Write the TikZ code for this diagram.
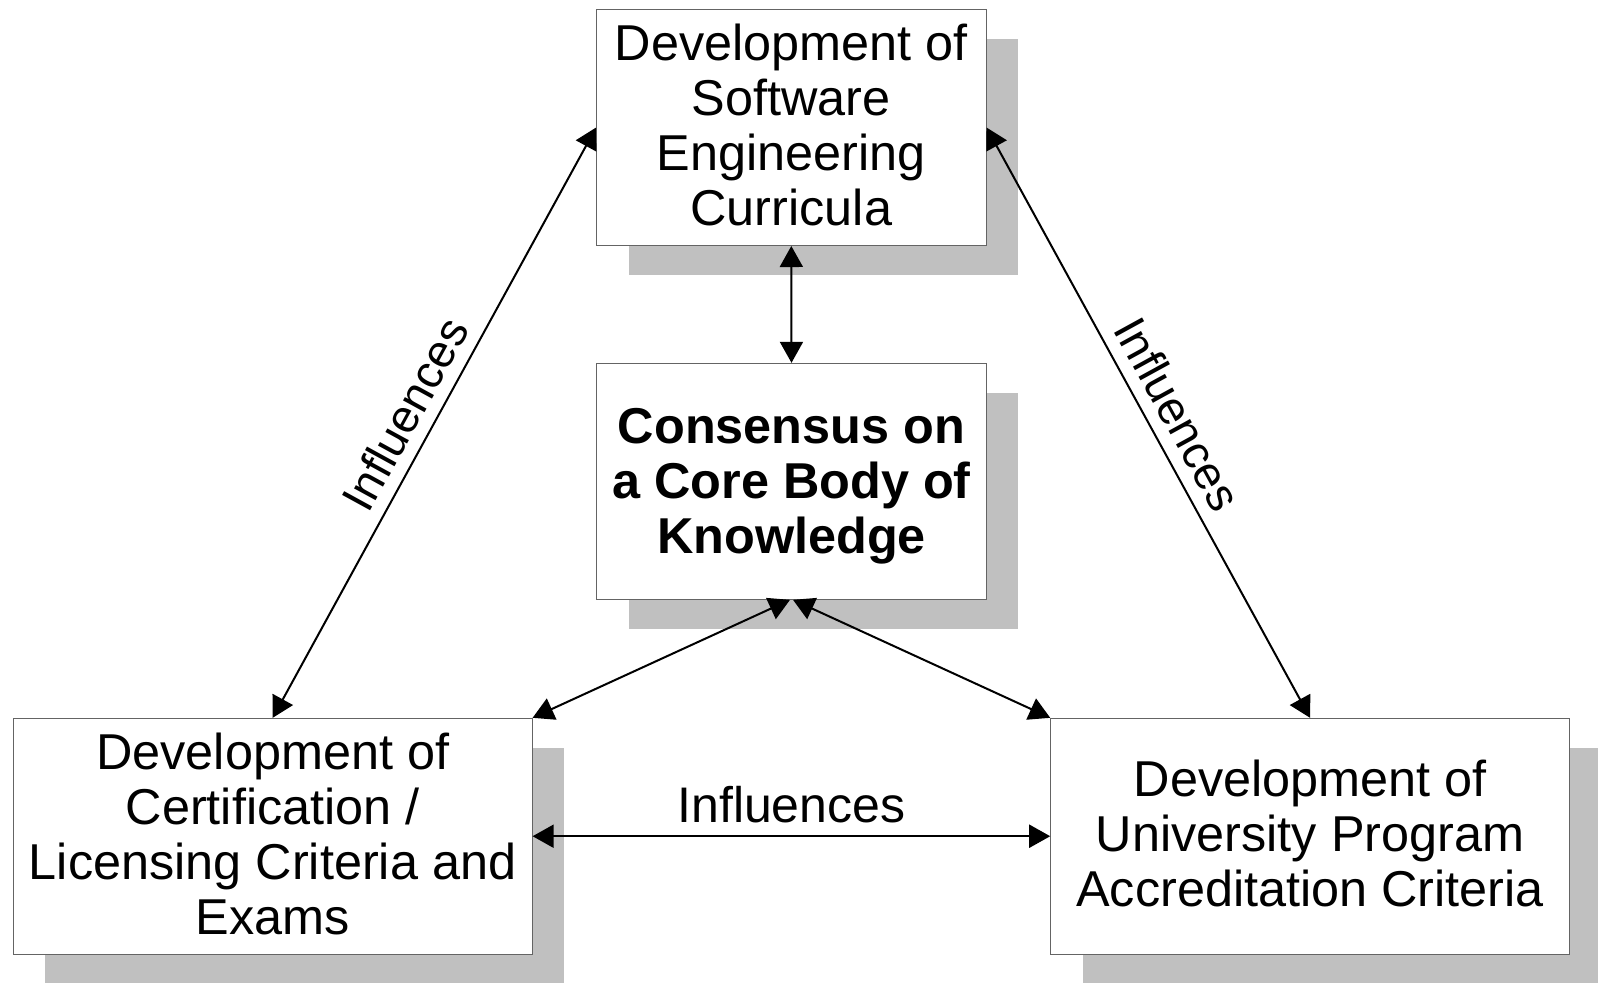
\documentclass[tikz,border=0pt]{standalone}
\usepackage{fontspec}
\setmainfont{Liberation Sans}
\usetikzlibrary{arrows.meta,shadows}
\definecolor{shadowgray}{RGB}{192,192,192}
\definecolor{boxline}{RGB}{100,100,100}

\begin{document}
\begin{tikzpicture}[x=0.5pt,y=-0.5pt,
  box/.style={draw=boxline, line width=0.5pt, fill=white, align=center, inner sep=0pt,
    font=\fontsize{25.2pt}{27.5pt}\selectfont,
    general shadow={fill=shadowgray, shadow xshift=16pt, shadow yshift=-14.75pt}},
  narrowbox/.style={box, minimum width=194.7pt, minimum height=118pt},
  widebox/.style={box, minimum width=259.4pt, minimum height=117.9pt},
  link/.style={line width=1pt,
    {Triangle[length=10.5pt,width=11.5pt]}-{Triangle[length=10.5pt,width=11.5pt]}},
  lbl/.style={font=\fontsize{25pt}{27.5pt}\selectfont, inner sep=6pt},
  slopedlbl/.style={lbl, font=\fontsize{23.2pt}{27.5pt}\selectfont, sloped, above, pos=0.51}
]
\useasboundingbox (0,0) rectangle (1598,982);

% the four boxes
\node[narrowbox, text depth=3pt] (cur) at (791.3,127.5)
  {Development of\\Software\\Engineering\\Curricula};
\node[narrowbox, text depth=0pt, font=\fontsize{25.2pt}{27.5pt}\selectfont\bfseries] (core) at (791.5,481.3)
  {Consensus on\\a Core Body of\\Knowledge};
\node[widebox, text depth=2pt] (cert) at (272.7,836.2)
  {Development of\\Certification /\\Licensing Criteria and\\Exams};
\node[widebox, text depth=3pt] (acc) at (1310.1,836.2)
  {Development of\\University Program\\Accreditation Criteria};

% connectors
\draw[link] (cur.south) -- (core.north);
\draw[link] ([xshift=-0.75pt]core.south) -- (cert.north east);
\draw[link] ([xshift=0.75pt]core.south) -- (acc.north west);
\draw[link] (cur.west) -- node[slopedlbl] {Influences} (cert.north);
\draw[link] (cur.east) -- node[slopedlbl] {Influences} (acc.north);
\draw[link] (cert.east) -- node[lbl, above] {Influences} (acc.west);
\end{tikzpicture}
\end{document}
